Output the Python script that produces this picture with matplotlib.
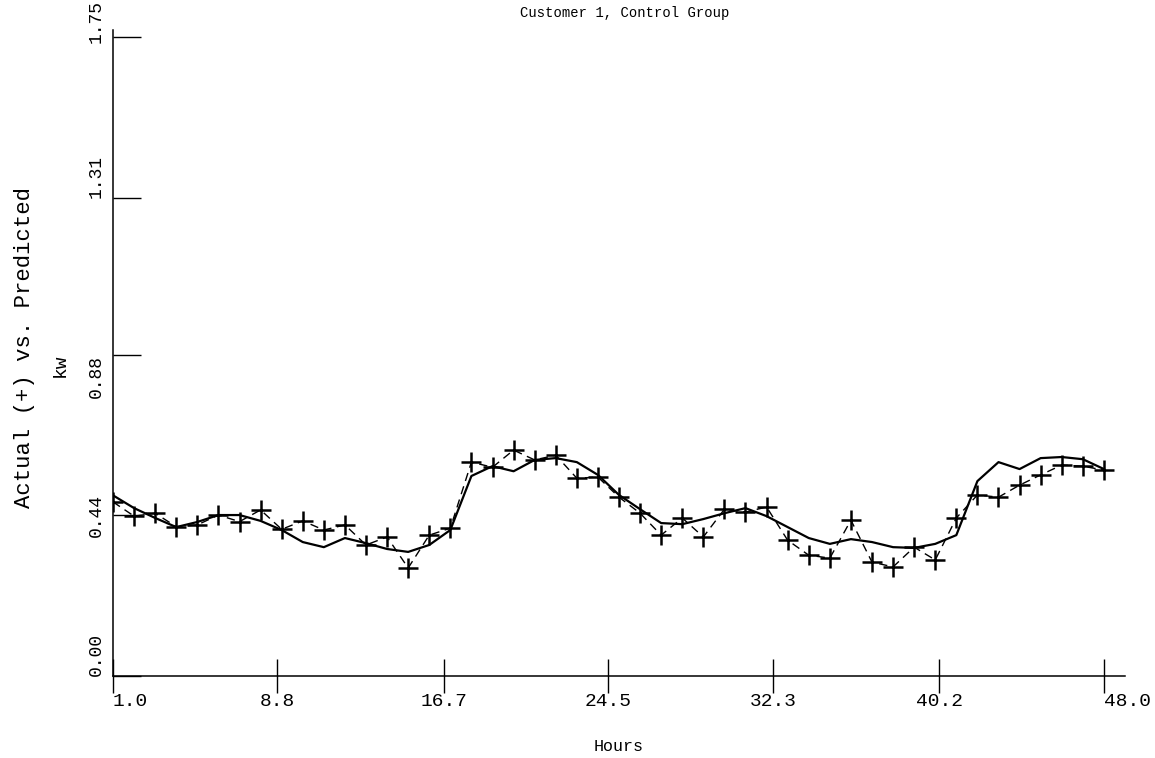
import matplotlib
matplotlib.use("Agg")
import matplotlib.pyplot as plt
from matplotlib.transforms import ScaledTranslation

# data
hours = list(range(1, 49))
actual_kw = [0.477, 0.438, 0.446, 0.409, 0.414, 0.441, 0.423, 0.455, 0.402, 0.425, 0.400, 0.414,
             0.359, 0.381, 0.296, 0.386, 0.405, 0.586, 0.572, 0.619, 0.592, 0.605, 0.542, 0.545,
             0.490, 0.446, 0.386, 0.433, 0.381, 0.457, 0.449, 0.463, 0.372, 0.331, 0.323, 0.427,
             0.312, 0.299, 0.353, 0.318, 0.433, 0.496, 0.490, 0.523, 0.551, 0.578, 0.575, 0.564]
predicted_kw = [0.495, 0.460, 0.433, 0.408, 0.422, 0.441, 0.441, 0.425, 0.400, 0.367, 0.353, 0.378,
                0.364, 0.348, 0.340, 0.359, 0.400, 0.548, 0.575, 0.561, 0.592, 0.597, 0.586, 0.551,
                0.496, 0.457, 0.419, 0.416, 0.430, 0.446, 0.460, 0.438, 0.408, 0.378, 0.362, 0.375,
                0.367, 0.353, 0.351, 0.362, 0.386, 0.534, 0.586, 0.567, 0.597, 0.600, 0.594, 0.567]
x_ticks = [1.0, 8.8, 16.7, 24.5, 32.3, 40.2, 48.0]
x_labels = ["1.0", "8.8", "16.7", "24.5", "32.3", "40.2", "48.0"]
y_ticks = [0.0, 0.44, 0.88, 1.31, 1.75]
y_labels = ["0.00", "0.44", "0.88", "1.31", "1.75"]

plt.rcParams["font.family"] = ["Liberation Mono", "DejaVu Sans Mono"]

fig = plt.figure(figsize=(11.55, 7.58), dpi=100)
ax = fig.add_axes([113 / 1155, 82 / 758, 1012 / 1155, 646 / 758])

# predicted (solid) and actual (+, dashed)
ax.plot(hours, predicted_kw, color="black", linewidth=1.6, solid_joinstyle="round")
ax.plot(hours, actual_kw, color="black", linewidth=1.0, linestyle=(0, (6, 4)),
        marker="+", markersize=15, markeredgewidth=1.8)

ax.set_xlim(1, 49)
ax.set_ylim(0, 1.77)
for side in ["top", "right"]:
    ax.spines[side].set_visible(False)
ax.spines["left"].set_linewidth(1.1)
ax.spines["bottom"].set_linewidth(1.1)

ax.set_xticks(x_ticks)
ax.set_xticklabels(x_labels, fontsize=14)
ax.tick_params(axis="x", direction="inout", length=24, width=1.0, pad=0)
lbls = ax.get_xticklabels()
lbls[0].set_horizontalalignment("left")
lbls[-1].set_horizontalalignment("left")

ax.set_yticks(y_ticks)
ax.set_yticklabels(y_labels, fontsize=13, rotation=90)
ax.tick_params(axis="y", direction="in", length=20, width=1.0, pad=6)
# label offsets as printed on the original plot
for lab, va in zip(ax.get_yticklabels(), ["bottom", "center", "top", "bottom", "center"]):
    lab.set_verticalalignment(va)
top_lab = ax.get_yticklabels()[-1]
top_lab.set_transform(top_lab.get_transform() + ScaledTranslation(0, 16 / 100, fig.dpi_scale_trans))

ax.set_xlabel("Hours", fontsize=12, labelpad=21)
fig.text(625 / 1155, 1 - 13 / 758, "Customer 1, Control Group", fontsize=10,
         ha="center", va="center")
fig.text(25 / 1155, 1 - 348 / 758, "Actual (+) vs. Predicted", fontsize=16,
         rotation=90, ha="center", va="center")
fig.text(60 / 1155, 1 - 365 / 758, "kw", fontsize=14,
         rotation=90, ha="center", va="center")

fig.savefig("out.png", dpi=100)
